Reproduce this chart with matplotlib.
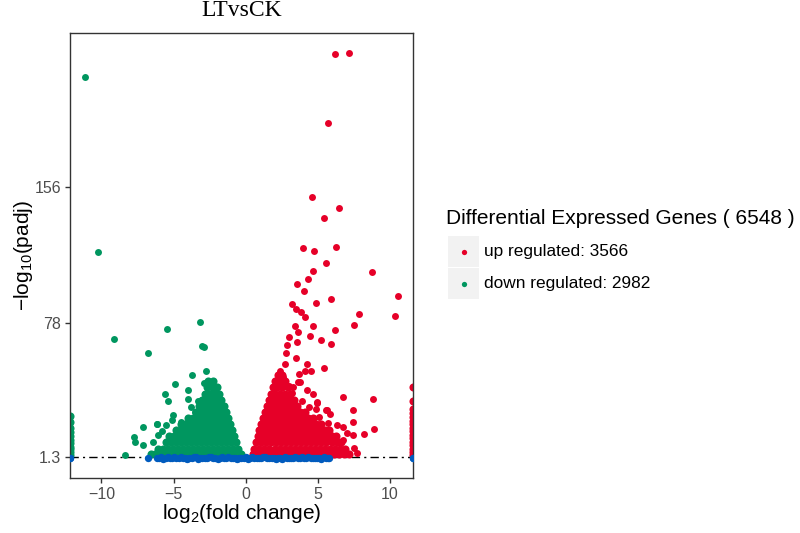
import matplotlib
matplotlib.use("Agg")
import matplotlib.pyplot as plt
from matplotlib.patches import Rectangle
from matplotlib.lines import Line2D

plt.rcParams['font.family'] = ['Liberation Sans', 'DejaVu Sans']
plt.rcParams['mathtext.fontset'] = 'custom'
plt.rcParams['mathtext.rm'] = 'Liberation Sans'
plt.rcParams['mathtext.it'] = 'Liberation Sans:italic'

title = 'LTvsCK'
n_up, n_down = 3566, 2982
yticks = [1.3, 78, 156]
xticks = [-10, -5, 0, 5, 10]

# up regulated: scattered genes
up_out_x = [6.19, 7.14, 5.68, 4.6, 6.49, 5.43, 4.0, 4.73, 6.26, 5.54, 8.78, 4.69, 4.34, 3.53,
            4.06, 5.89, 10.58, 4.87, 3.23, 3.46, 3.81, 4.09, 7.85, 10.32, 3.44, 4.64, 7.53, 6.17,
            3.63, 4.46, 2.98, 5.24, 5.91, 3.58, 2.84, 2.79, 3.49, 2.7, 4.25, 5.43, 2.38, 4.11,
            4.5, 3.67, 2.56, 3.76, 6.77, 8.85, 4.97, 4.87, 5.66, 7.46, 5.84, 7.41, 6.3, 8.89,
            8.2, 7.41, 7.0, 6.77, 7.51, 7.74, 3.31, 3.65, 4.23, 4.7, 4.93, 5.6, 5.72, 6.76,
            3.9, 4.4, 5.1, 3.2, 3.0]
up_out_y = [232.0, 232.8, 192.7, 150.3, 143.8, 137.9, 120.9, 119.3, 121.6, 112.1, 107.3, 107.9,
            103.1, 100.0, 96.2, 91.8, 93.5, 89.1, 88.8, 85.9, 84.0, 81.1, 83.2, 82.1, 76.4, 76.4,
            76.5, 73.9, 72.7, 70.4, 69.7, 68.3, 65.7, 67.2, 65.3, 60.5, 58.0, 54.2, 54.2, 52.1,
            50.6, 50.6, 50.2, 48.7, 47.1, 44.3, 35.5, 34.3, 32.8, 28.8, 28.0, 28.0, 25.6, 21.4,
            19.4, 17.2, 14.1, 13.7, 14.7, 10.8, 6.1, 3.6, 41.3, 44.2, 39.4, 37.5, 31.8, 28.0,
            20.4, 18.4, 33.0, 30.0, 24.0, 38.0, 42.0]
# up regulated: dense cloud, row by row
up_cloud = {
    3.0: [0.5, 0.85, 1.2, 1.55, 1.9, 2.25, 2.6, 2.95, 3.3, 3.65, 4.0, 4.35, 4.7, 5.05, 5.4, 5.75,
          6.1, 6.45, 6.8, 7.15],
    6.0: [0.6, 0.95, 1.3, 1.65, 2.0, 2.35, 2.7, 3.05, 3.4, 3.75, 4.1, 4.45, 4.8, 5.15, 5.5, 5.85,
          6.2, 6.55, 6.9],
    9.5: [0.7, 1.05, 1.4, 1.75, 2.1, 2.45, 2.8, 3.15, 3.5, 3.85, 4.2, 4.55, 4.9, 5.25, 5.6, 5.95,
          6.3, 6.6],
    13.0: [0.82, 1.15, 1.5, 1.85, 2.2, 2.55, 2.9, 3.25, 3.6, 3.95, 4.3, 4.65, 5.0, 5.35, 5.7, 6.0,
           6.25],
    16.5: [0.95, 1.3, 1.65, 2.0, 2.35, 2.7, 3.05, 3.4, 3.75, 4.1, 4.45, 4.8, 5.15, 5.5, 5.8],
    20.0: [1.08, 1.4, 1.75, 2.1, 2.45, 2.8, 3.15, 3.5, 3.85, 4.2, 4.55, 4.9, 5.25],
    23.5: [1.22, 1.55, 1.9, 2.25, 2.6, 2.95, 3.3, 3.65, 4.0, 4.35, 4.7],
    27.0: [1.35, 1.7, 2.05, 2.4, 2.75, 3.1, 3.45, 3.8, 4.1],
    30.5: [1.47, 1.8, 2.15, 2.5, 2.85, 3.2, 3.55],
    34.0: [1.6, 1.95, 2.3, 2.65, 3.0, 3.35],
    37.5: [1.73, 2.05, 2.4, 2.75, 3.1],
    41.0: [1.87, 2.2, 2.55, 2.9],
    44.5: [2.0, 2.35, 2.7],
    48.0: [2.25, 2.55],
}
# genes with infinite fold change, squashed onto the right edge
up_edge_y = [41.3, 33.3, 28.9, 26.5, 24.0, 22.0, 20.0, 18.0, 16.0, 14.0, 12.0, 10.0, 8.0, 6.0,
             4.0, 2.5]

# down regulated
down_out_x = [-11.13, -10.21, -9.12, -6.74, -5.43, -3.19, -3.05, -2.89, -3.74, -2.75, -4.9,
              -5.59, -5.38, -4.02, -8.34, -7.14, -7.74, -7.65, -7.14, -6.17, -6.05, -4.03,
              -3.8, -3.52, -5.03, -5.14, -5.53, -6.18, -2.9, -2.5, -2.2, -2.7, -2.4, -4.5,
              -3.3, -6.4, -5.8]
down_out_y = [219.0, 118.4, 68.9, 60.5, 74.3, 78.5, 64.7, 64.3, 48.3, 50.6, 42.9, 37.2, 33.4,
              39.5, 2.0, 18.5, 12.8, 9.9, 8.0, 20.0, 13.7, 34.3, 29.9, 27.0, 25.1, 22.3, 19.4,
              20.0, 43.5, 44.0, 40.0, 38.0, 36.0, 21.0, 33.0, 10.0, 16.0]
down_cloud = {
    3.0: [-0.35, -0.7, -1.05, -1.4, -1.75, -2.1, -2.45, -2.8, -3.15, -3.5, -3.85, -4.2, -4.55,
          -4.9, -5.25, -5.6, -5.95, -6.3, -6.55],
    6.0: [-0.5, -0.85, -1.2, -1.55, -1.9, -2.25, -2.6, -2.95, -3.3, -3.65, -4.0, -4.35, -4.7,
          -5.05, -5.4, -5.75, -6.1],
    9.5: [-0.65, -1.0, -1.35, -1.7, -2.05, -2.4, -2.75, -3.1, -3.45, -3.8, -4.15, -4.5, -4.85,
          -5.2, -5.55],
    13.0: [-0.8, -1.15, -1.5, -1.85, -2.2, -2.55, -2.9, -3.25, -3.6, -3.95, -4.3, -4.65, -5.0,
           -5.3],
    16.5: [-0.95, -1.3, -1.65, -2.0, -2.35, -2.7, -3.05, -3.4, -3.75, -4.1, -4.45, -4.85],
    20.0: [-1.08, -1.4, -1.75, -2.1, -2.45, -2.8, -3.15, -3.5, -3.85, -4.2, -4.45],
    23.5: [-1.2, -1.55, -1.9, -2.25, -2.6, -2.95, -3.3, -3.65, -4.0],
    27.0: [-1.35, -1.7, -2.05, -2.4, -2.75, -3.1, -3.45],
    30.5: [-1.5, -1.85, -2.2, -2.55, -2.9, -3.25],
    34.0: [-1.7, -2.0, -2.35, -2.7, -3.0],
    37.5: [-1.85, -2.15, -2.5, -2.8],
    41.0: [-2.0, -2.35, -2.7],
    44.5: [-2.25, -2.6],
}
down_edge_y = [24.5, 21.0, 18.0, 15.5, 13.0, 11.0, 9.0, 7.0, 5.5, 4.0, 2.5]

# not significant (padj > 0.05)
ns_x = [-6.79, -6.15, -5.85, -5.55, -5.25, -4.95, -4.65, -4.35, -4.05, -3.75, -3.45, -3.15,
        -2.85, -2.55, -2.25, -1.95, -1.65, -1.35, -1.05, -0.75, -0.45, -0.15, 0.15, 0.45,
        0.75, 1.05, 1.35, 1.65, 1.95, 2.25, 2.55, 2.85, 3.15, 3.45, 3.75, 4.05, 4.35, 4.65,
        4.95, 5.25, 5.55, 5.8,
        -6.0, -5.7, -5.4, -5.1, -4.8, -4.5, -4.2, -3.9, -3.6, -3.3, -3.0, -2.7, -2.4, -2.1,
        -1.8, -1.5, -1.2, -0.9, -0.6, -0.3, 0.0, 0.3, 0.6, 0.9, 1.2, 1.5, 1.8, 2.1, 2.4, 2.7,
        3.0, 3.3, 3.6, 3.9, 4.2, 4.5, 4.8, 5.1, 5.4, 5.7]
ns_y = [0.4, 0.5, 0.9, 0.3, 0.7, 1.0, 0.4, 0.8, 0.2, 0.6, 1.1, 0.5, 0.3, 0.9, 0.6, 0.2, 1.0,
        0.4, 0.7, 0.3, 0.8, 0.5, 0.2, 0.9, 0.6, 0.3, 1.0, 0.5, 0.4, 0.8, 0.2, 0.7, 0.5, 0.9,
        0.3, 0.6, 1.0, 0.4, 0.7, 0.2, 0.5, 0.4,
        0.8, 0.2, 1.0, 0.5, 0.3, 0.9, 0.6, 0.4, 1.1, 0.2, 0.7, 0.5, 0.9, 0.3, 0.8, 0.4, 1.0,
        0.6, 0.2, 0.7, 0.9, 0.4, 0.6, 0.3, 1.0, 0.5, 0.8, 0.2, 0.6, 0.9, 0.3, 0.7, 0.5, 1.0,
        0.4, 0.8, 0.3, 0.6, 0.9, 0.5]
ns_edge_y = [0.3, 0.8]

xmin, xmax = -12.18, 11.6
red, green, blue = '#E60028', '#00965F', '#005BBE'

up_cx = [x for y in up_cloud for x in up_cloud[y]] + [xmax] * len(up_edge_y)
up_cy = [y for y in up_cloud for x in up_cloud[y]] + up_edge_y
down_cx = [x for y in down_cloud for x in down_cloud[y]] + [xmin] * len(down_edge_y)
down_cy = [y for y in down_cloud for x in down_cloud[y]] + down_edge_y
blue_x = ns_x + [xmin, xmin, xmax, xmax]
blue_y = ns_y + ns_edge_y + ns_edge_y

W, H = 800, 533
fig = plt.figure(figsize=(8, 5.33), dpi=100)
ax = fig.add_axes([70 / W, 1 - 478 / H, 343 / W, 445 / H])

ax.axhline(1.3, color='black', lw=1.0, ls=(0, (6, 3, 1.5, 3)), zorder=1)
ax.scatter(up_cx, up_cy, s=34, c=red, linewidths=0, zorder=2)
ax.scatter(down_cx, down_cy, s=34, c=green, linewidths=0, zorder=2)
ax.scatter(up_out_x, up_out_y, s=25, c=red, linewidths=0, zorder=2)
ax.scatter(down_out_x, down_out_y, s=25, c=green, linewidths=0, zorder=2)
ax.scatter(blue_x, blue_y, s=28, c=blue, linewidths=0, zorder=3)

ax.set_xlim(xmin, xmax)
ax.set_ylim(-10.9, 244.1)
ax.set_xticks(xticks)
ax.set_xticklabels(['\u2212' + str(-t) if t < 0 else str(t) for t in xticks])
ax.set_yticks(yticks)
ax.set_yticklabels(['1.3', '78', '156'])
ax.tick_params(direction='out', length=3.4, width=1.0, color='#333333',
               labelsize=11.5, labelcolor='#4D4D4D', pad=3)
for s in ax.spines.values():
    s.set_color('#333333')
    s.set_linewidth(1.0)

ax.set_xlabel('log$_2$(fold change)', fontsize=15, labelpad=0)
ax.set_ylabel('\u2212log$_{10}$(padj)', fontsize=15)
ax.yaxis.set_label_coords((35 - 70) / 343, 0.5)
fig.text(241.5 / W, 1 - 11 / H, title, ha='center', va='center',
         family=['Liberation Serif', 'DejaVu Serif'], fontsize=17)

# legend drawn by hand, ggplot style
fig.text(446 / W, 1 - 219 / H, 'Differential Expressed Genes ( %d )' % (n_up + n_down),
         ha='left', va='center', fontsize=15)
for i, (lab, col) in enumerate([('up regulated: %d' % n_up, red),
                                ('down regulated: %d' % n_down, green)]):
    top = 236 + i * 32
    fig.add_artist(Rectangle((448 / W, 1 - (top + 31) / H), 31 / W, 31 / H,
                             transform=fig.transFigure, facecolor='#F2F2F2', edgecolor='none'))
    cy = 1 - (top + 15.5) / H
    fig.add_artist(Line2D([463.5 / W], [cy], transform=fig.transFigure, marker='o',
                          markersize=3.8, markerfacecolor=col, markeredgewidth=0, ls='none'))
    fig.text(484 / W, cy, lab, ha='left', va='center', fontsize=12.4)

fig.savefig('out.png', dpi=100)
